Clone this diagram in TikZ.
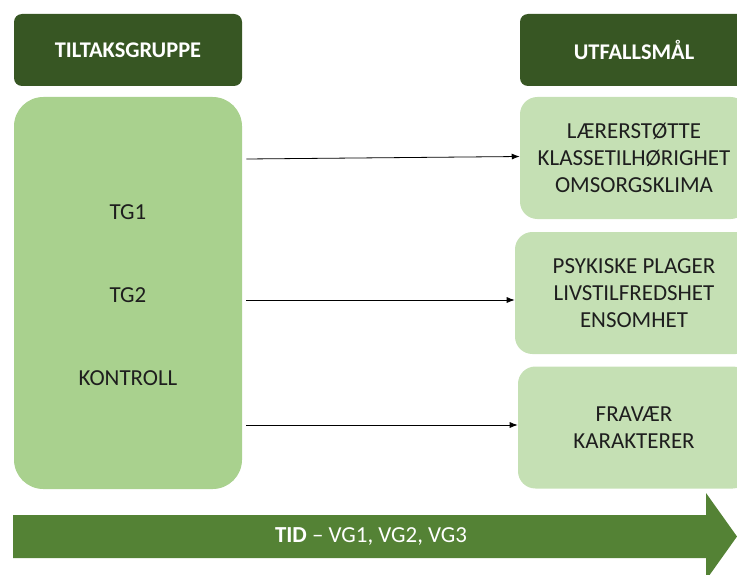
\documentclass[tikz,border=0pt]{standalone}
\usepackage{fontspec}
\setmainfont{Carlito}
\usetikzlibrary{arrows.meta}
\definecolor{hdr}{HTML}{375623}
\definecolor{leftbox}{HTML}{A9D18E}
\definecolor{rightbox}{HTML}{C5E0B4}
\definecolor{timearrow}{HTML}{548235}
\definecolor{txt}{HTML}{1E1E1E}
\begin{document}
\begin{tikzpicture}[x=0.75pt,y=-0.75pt,
  header/.style={fill=hdr, rounded corners=6pt, minimum width=171pt, minimum height=54pt,
    text=white, font=\fontsize{16.8}{20}\selectfont\bfseries, inner sep=0pt},
  groupbox/.style={fill=leftbox, rounded corners=22pt, minimum width=171pt, minimum height=294pt, inner sep=0pt},
  outbox/.style={fill=rightbox, rounded corners=13pt, minimum height=91.5pt, inner sep=0pt,
    text=txt, align=center, font=\fontsize{17.2}{20.25}\selectfont},
  label/.style={text=txt, font=\fontsize{17.2}{20.25}\selectfont, inner sep=0pt},
  conn/.style={draw=black, line width=0.6pt, -{Latex[length=6pt,width=4.5pt]}}
]
\useasboundingbox (0,0) rectangle (737,574);

% headers
\node[header] (hL) at (128,50) {TILTAKSGRUPPE};
\node[header] (hR) at (634,50) {UTFALLSMÅL};

% left group box
\node[groupbox] (grp) at (128,293) {};
\node[label] (tg1) at (128,212) {TG1};
\node[label] (tg2) at (128,295) {TG2};
\node[label] (kon) at (128,378) {KONTROLL};

% right outcome boxes
\node[outbox, minimum width=171pt] (o1) at (634,158) {LÆRERSTØTTE\\KLASSETILHØRIGHET\\OMSORGSKLIMA};
\node[outbox, minimum width=178.5pt] (o2) at (634,293) {PSYKISKE PLAGER\\LIVSTILFREDSHET\\ENSOMHET};
\node[outbox, minimum width=174pt] (o3) at (634,427.5) {FRAVÆR\\KARAKTERER};

% connectors
\coordinate (s1) at (grp.east |- 0,159);
\coordinate (s2) at (grp.east |- 0,300);
\coordinate (s3) at (grp.east |- 0,425);
\coordinate (e1) at (o1.west |- 0,156.5);
\coordinate (e2) at (o2.west |- 0,300);
\coordinate (e3) at (o3.west |- 0,425);
\draw[conn] ([xshift=3pt]s1) -- (e1);
\draw[conn] ([xshift=3pt]s2) -- (e2);
\draw[conn] ([xshift=3pt]s3) -- (e3);

% time arrow
\fill[timearrow] (13,515) -- (706,515) -- (706,493) -- (737,536.5) -- (706,580) -- (706,558) -- (13,558) -- cycle;
\node[text=white, font=\fontsize{17.2}{20}\selectfont, inner sep=0pt] (tid) at (371,536.5) {\textbf{TID} – VG1, VG2, VG3};
\end{tikzpicture}
\end{document}
